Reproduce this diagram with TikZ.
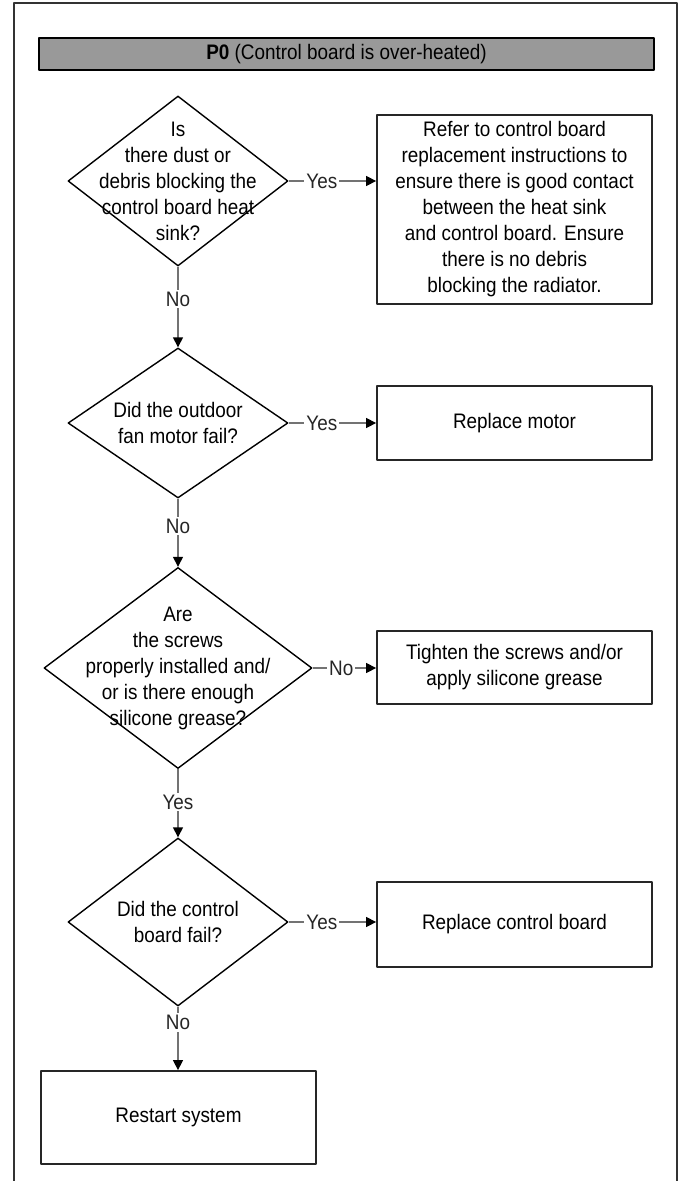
\documentclass[tikz,border=0pt]{standalone}
\usepackage{fontspec}
\setmainfont{Liberation Sans}[FakeStretch=0.9]
\usetikzlibrary{arrows.meta,shapes.geometric}
\begin{document}
\begin{tikzpicture}[x=1pt, y=-1pt, font=\fontsize{21}{26}\selectfont, line join=round,
	decision/.style={draw, shape=diamond, line width=1.4pt, inner sep=0pt, minimum width=220pt},
	dtext/.style={align=center, inner sep=0pt},
	action/.style={draw=black!85, line width=1.8pt, minimum width=275pt, align=center, inner sep=2pt},
	flow/.style={draw=black!55, line width=1.4pt, -{Triangle[length=10pt,width=10pt,color=black]}},
	answer/.style={fill=white, inner sep=2pt, text=black!85}]
	\useasboundingbox (0,0) rectangle (683,1181);
	\draw[line width=1.2pt, black!80] (14,1181) -- (14,3) -- (677,3) -- (677,1181);
	\node[draw, line width=1.4pt, fill=black!40, minimum width=615pt, minimum height=32pt, inner sep=0pt] (title) at (346.5,54) {\textbf{P0} (Control board is over-heated)};
	% questions
	\node[decision, minimum height=170pt] (dust) at (178,181) {};
	\node[dtext] at (dust) {Is\\there dust or\\debris blocking the\\control board heat\\sink?};
	\node[decision, minimum height=150pt] (fan) at (178,423) {};
	\node[dtext] at (fan) {Did the outdoor\\fan motor fail?};
	\node[decision, minimum width=268pt, minimum height=201pt] (screws) at (178,668) {};
	\node[dtext] at (screws) {Are\\the screws\\properly installed and/\\or is there enough\\silicone grease?};
	\node[decision, minimum height=168pt] (board) at (178,922) {};
	\node[dtext] at (board) {Did the control\\board fail?};
	% actions
	\node[action, minimum height=189pt] (refer) at (514.5,209.5) {Refer to control board\\replacement instructions to\\ensure there is good contact\\between the heat sink\\and control board. Ensure\\there is no debris\\blocking the radiator.};
	\node[action, minimum height=74pt] (motor) at (514.5,423) {Replace motor};
	\node[action, minimum height=73pt] (tighten) at (514.5,667.5) {Tighten the screws and/or\\apply silicone grease};
	\node[action, minimum height=85pt] (replace) at (514.5,924.5) {Replace control board};
	\node[action, minimum height=93pt] (restart) at (178.5,1117.5) {Restart system};
	% connectors
	\draw[flow] (dust.east) -- node[answer, pos=0.38] {Yes} (dust.east -| refer.west);
	\draw[flow] (dust.south) -- node[answer, pos=0.4] {No} (fan.north);
	\draw[flow] (fan.east) -- node[answer, pos=0.38] {Yes} (fan.east -| motor.west);
	\draw[flow] (fan.south) -- node[answer, pos=0.4] {No} (screws.north);
	\draw[flow] (screws.east) -- node[answer, pos=0.45] {No} (screws.east -| tighten.west);
	\draw[flow] (screws.south) -- node[answer, pos=0.48] {Yes} (board.north);
	\draw[flow] (board.east) -- node[answer, pos=0.38] {Yes} (board.east -| replace.west);
	\draw[flow] (board.south) -- node[answer, pos=0.25] {No} (board.south |- restart.north);
\end{tikzpicture}
\end{document}
